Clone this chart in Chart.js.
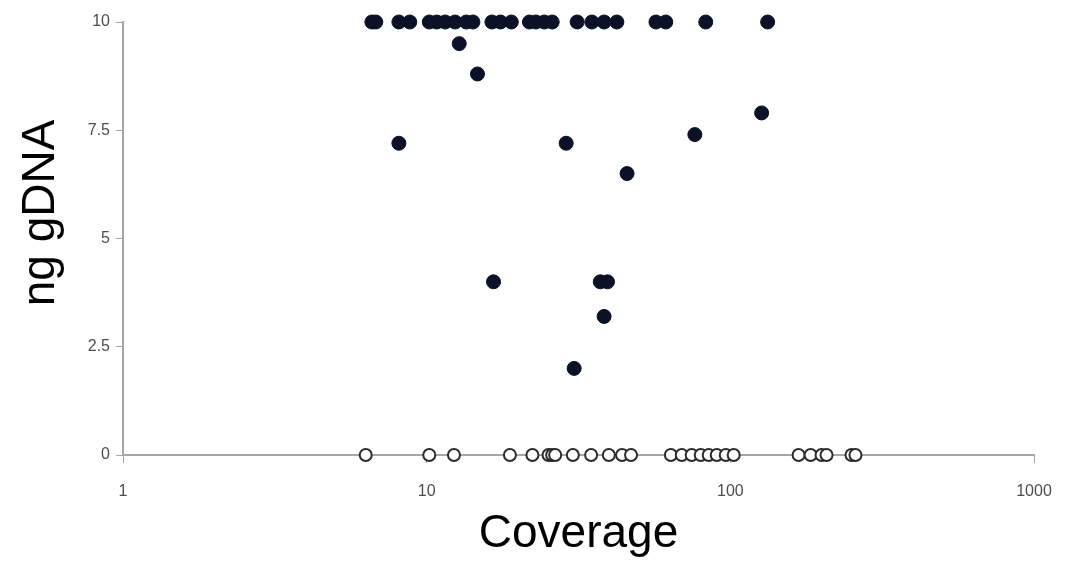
<!DOCTYPE html>
<html>
<head>
<meta charset="utf-8">
<script src="https://cdn.jsdelivr.net/npm/chart.js@4/dist/chart.umd.min.js"></script>
<style>
  body { margin: 0; background: #fff; }
</style>
</head>
<body>
<canvas id="coverageChart" width="1071" height="562"></canvas>
<script>
// Samples with detected gDNA (filled markers)
const filledCoverage = [6.6, 6.8, 8.1, 8.8, 10.2, 10.8, 11.5, 12.4, 13.5, 14.2, 16.4, 17.5, 19.0,
    21.8, 22.9, 24.4, 25.9, 31.3, 35.0, 38.4, 42.3, 56.9, 61.3, 83.0, 132.7,
    12.8, 14.7, 8.1, 28.8, 76.4, 126.8, 45.7, 16.6, 37.3, 39.4, 38.4, 30.6];
const filledNg = [10, 10, 10, 10, 10, 10, 10, 10, 10, 10, 10, 10, 10,
    10, 10, 10, 10, 10, 10, 10, 10, 10, 10, 10, 10,
    9.5, 8.8, 7.2, 7.2, 7.4, 7.9, 6.5, 4.0, 4.0, 4.0, 3.2, 2.0];

// Samples at zero (open markers)
const openCoverage = [6.3, 10.2, 12.3, 18.8, 22.3, 25.2, 25.9, 26.5, 30.3, 34.8, 39.8, 44.0, 47.1,
    63.7, 69.2, 74.6, 79.9, 84.9, 90.2, 96.6, 102.6,
    167.8, 183.8, 199.7, 207.4, 250.6, 258.3];
const openNg = openCoverage.map(() => 0);

const xTickValues = [1, 10, 100, 1000];
const yTickValues = [0, 2.5, 5, 7.5, 10];

const toPoints = (xs, ys) => xs.map((x, i) => ({ x: x, y: ys[i] }));

const axisColor = '#a6a6a6';
const tickFont = { family: 'Liberation Sans', size: 16 };
const titleFont = { family: 'Liberation Sans', size: 46 };

const ctx = document.getElementById('coverageChart').getContext('2d');
new Chart(ctx, {
    type: 'scatter',
    data: {
        datasets: [
            {
                label: 'gDNA',
                data: toPoints(filledCoverage, filledNg),
                backgroundColor: '#0b1126',
                borderColor: '#0b1126',
                borderWidth: 1,
                pointRadius: 7,
                clip: false
            },
            {
                label: 'zero',
                data: toPoints(openCoverage, openNg),
                backgroundColor: '#ffffff',
                borderColor: '#2b2b2b',
                borderWidth: 2,
                pointRadius: 6,
                clip: false
            }
        ]
    },
    options: {
        responsive: false,
        animation: false,
        layout: { padding: { top: 22, right: 37, left: 0, bottom: 0 } },
        plugins: {
            legend: { display: false },
            tooltip: { enabled: false }
        },
        scales: {
            x: {
                type: 'logarithmic',
                min: 1,
                max: 1000,
                afterFit: scale => { scale.height = 107; },
                afterBuildTicks: scale => { scale.ticks = xTickValues.map(v => ({ value: v })); },
                border: { color: axisColor, width: 2 },
                grid: { drawOnChartArea: false, color: axisColor, tickLength: 8 },
                ticks: {
                    font: tickFont,
                    color: '#4d4d4d',
                    padding: 19,
                    maxRotation: 0,
                    callback: value => String(value)
                },
                title: {
                    display: true,
                    text: 'Coverage',
                    font: titleFont,
                    color: '#000',
                    padding: { top: 0, bottom: 0 }
                }
            },
            y: {
                min: 0,
                max: 10,
                afterFit: scale => { scale.width = 123; },
                afterBuildTicks: scale => { scale.ticks = yTickValues.map(v => ({ value: v })); },
                border: { color: axisColor, width: 2 },
                grid: { drawOnChartArea: false, color: axisColor, tickLength: 7 },
                ticks: {
                    font: tickFont,
                    color: '#4d4d4d',
                    padding: 6,
                    callback: value => String(value)
                },
                title: {
                    display: true,
                    text: '\u00a0\u00a0\u00a0\u00a0ng gDNA',
                    font: titleFont,
                    color: '#000',
                    padding: { top: 14, bottom: 0 }
                }
            }
        }
    }
});
</script>
</body>
</html>
